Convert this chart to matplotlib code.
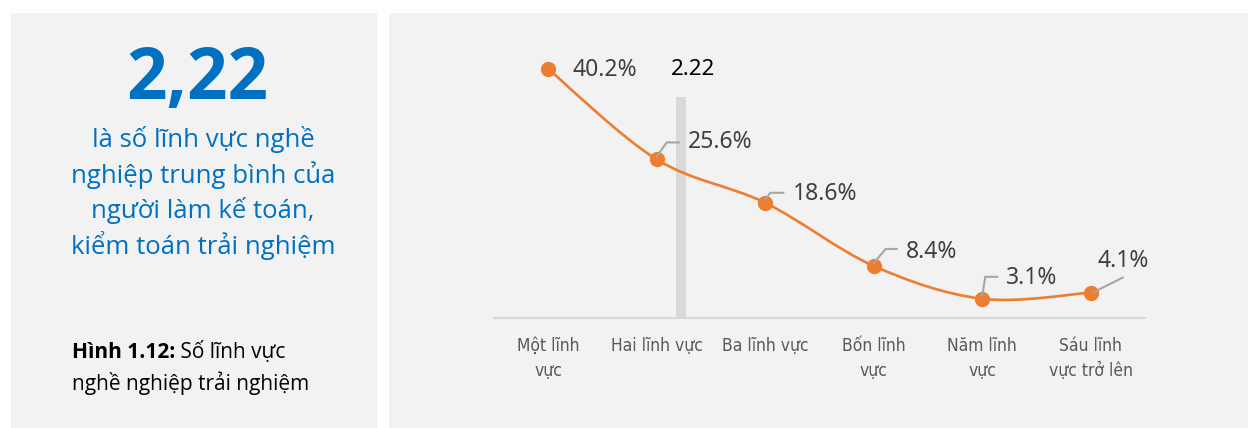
import matplotlib
matplotlib.use("Agg")
import matplotlib.pyplot as plt
from matplotlib.patches import Rectangle
from matplotlib.path import Path
from matplotlib.patches import PathPatch
from matplotlib.lines import Line2D
from matplotlib.transforms import IdentityTransform
from matplotlib import font_manager

categories = ["Một lĩnh\nvực", "Hai lĩnh vực", "Ba lĩnh vực", "Bốn lĩnh\nvực", "Năm lĩnh\nvực", "Sáu lĩnh\nvực trở lên"]
values = [40.2, 25.6, 18.6, 8.4, 3.1, 4.1]
value_labels = ["40.2%", "25.6%", "18.6%", "8.4%", "3.1%", "4.1%"]
mean_value = 2.22
mean_label = "2.22"
mean_bar_height = 35.7
big_number = "2,22"
blurb_lines = ["là số lĩnh vực nghề", "nghiệp trung bình của", "người làm kế toán,", "kiểm toán trải nghiệm"]
caption_bold = "Hình 1.12:"
caption_rest = "Số lĩnh vực"
caption_line2 = "nghề nghiệp trải nghiệm"

W, H = 1248, 428
DPI = 100
fig = plt.figure(figsize=(W / DPI, H / DPI), dpi=DPI, facecolor="white")

# pick a narrow font for category labels if one is installed
cat_font = dict(family=["Roboto", "DejaVu Sans"], fontsize=12.5)
ttf = font_manager.fontManager.ttflist
if any(f.name == "Liberation Sans Narrow" for f in ttf):
    cat_font = dict(family=["Liberation Sans Narrow", "DejaVu Sans"], fontsize=13.5)
elif any(f.name == "DejaVu Sans" and "Condensed" in f.fname for f in ttf):
    cat_font = dict(family=["DejaVu Sans"], fontstretch="condensed", fontsize=12.5)

main_font = ["Open Sans", "DejaVu Sans"]
label_font = ["Noto Sans", "DejaVu Sans"]

PANEL = "#F2F2F2"
ORANGE = "#ED7D31"
BLUE = "#0070C0"

def fx(px):
    return px / W

def fy(py):
    return 1 - py / H

# background panels
fig.add_artist(Rectangle((fx(11), 0), fx(377 - 11), fy(13), transform=fig.transFigure,
                         facecolor=PANEL, edgecolor="none", zorder=-10))
fig.add_artist(Rectangle((fx(389), 0), fx(1248 - 389), fy(13), transform=fig.transFigure,
                         facecolor=PANEL, edgecolor="none", zorder=-10))

# left panel text
fig.text(fx(197), fy(80), big_number, color=BLUE, fontsize=51, fontweight="bold",
         family=main_font, ha="center", va="center")
for i, line in enumerate(blurb_lines):
    fig.text(fx(203), fy(140 + 35.3 * i), line, color=BLUE, fontsize=18.5,
             family=main_font, ha="center", va="center")

t_bold = fig.text(fx(72), fy(358), caption_bold, color="black", fontsize=15,
                  fontweight="bold", family=main_font, ha="left", va="baseline")
fig.text(fx(72), fy(383), caption_line2, color="black", fontsize=15,
         family=main_font, ha="left", va="center")

# chart axes
x0, x1 = 494, 1145
ybase, ytop = 318, 39.3
ax = fig.add_axes([fx(x0), fy(ybase), fx(x1 - x0), (ybase - ytop) / H])
ax.set_facecolor("none")
ax.set_xlim(-0.5, len(categories) - 0.5)
ax.set_ylim(0, 45)
for s in ["top", "left", "right"]:
    ax.spines[s].set_visible(False)
ax.spines["bottom"].set_color("#D9D9D9")
ax.spines["bottom"].set_linewidth(1.5)
ax.set_yticks([])
xs = list(range(len(categories)))
ax.set_xticks(xs)
ax.set_xticklabels(categories, color="#595959", linespacing=1.45, **cat_font)
ax.tick_params(axis="x", length=0, pad=14)

# mean bar (category "Một" is position 0, so the mean sits at mean_value - 1)
mean_pos = mean_value - 1
ax.bar([mean_pos], [mean_bar_height], width=0.092, color="#D9D9D9", zorder=1)
ax.text(mean_pos + 0.11, 40.2, mean_label, fontsize=16, family=label_font,
        color="black", ha="center", va="center")

# smooth line (Catmull-Rom bezier through data points)
pts = list(zip(xs, values))
verts = [pts[0]]
codes = [Path.MOVETO]
n = len(pts)
for i in range(n - 1):
    p0 = pts[i - 1] if i > 0 else pts[i]
    p1 = pts[i]
    p2 = pts[i + 1]
    p3 = pts[i + 2] if i + 2 < n else pts[i + 1]
    c1 = (p1[0] + (p2[0] - p0[0]) / 6, p1[1] + (p2[1] - p0[1]) / 6)
    c2 = (p2[0] - (p3[0] - p1[0]) / 6, p2[1] - (p3[1] - p1[1]) / 6)
    verts += [c1, c2, p2]
    codes += [Path.CURVE4] * 3
ax.add_patch(PathPatch(Path(verts, codes), facecolor="none", edgecolor=ORANGE, lw=1.9, zorder=3))
ax.plot(xs, values, "o", color=ORANGE, markersize=10, zorder=4)

fig.canvas.draw()
# second part of caption line 1, right after the bold part
bb = t_bold.get_window_extent()
fig.text(bb.x1 / W, fy(358), " " + caption_rest, color="black", fontsize=15,
         family=main_font, ha="left", va="baseline")

# labels and leader lines (pixel offsets, y up)
text_off = [(24, -1), (31, 17), (28, 9), (32, 14), (24, 21), (7, 32)]
leaders = [None,
           [(0, 3), (10, 17), (22, 17)],
           [(0, 3), (5, 10), (18, 10)],
           [(0, 3), (12, 17), (23, 17)],
           [(0, 3), (3, 22), (15, 22)],
           [(2, 0), (32, 15)]]
for i, (x, v) in enumerate(zip(xs, values)):
    X, Y = ax.transData.transform((x, v))
    if leaders[i]:
        lx = [X + a for a, b in leaders[i]]
        ly = [Y + b for a, b in leaders[i]]
        fig.add_artist(Line2D(lx, ly, transform=IdentityTransform(), color="#A6A6A6", lw=1.5, zorder=5))
    dx, dy = text_off[i]
    ax.annotate(value_labels[i], xy=(x, v), xytext=(dx, dy), textcoords="offset pixels",
                fontsize=16.5, family=label_font, color="#404040", ha="left", va="center")

fig.savefig("out.png", dpi=DPI, facecolor="white")
